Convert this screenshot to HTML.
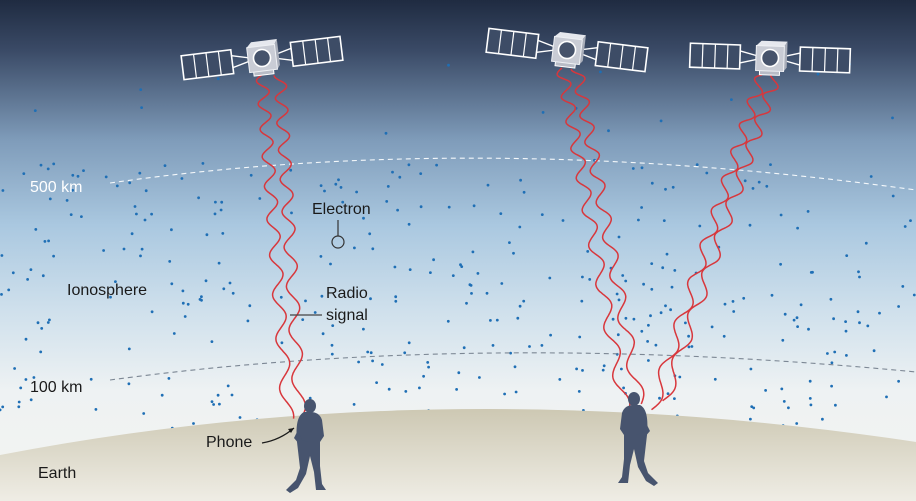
<!DOCTYPE html>
<html><head><meta charset="utf-8"><style>
html,body{margin:0;padding:0;width:916px;height:501px;overflow:hidden}
svg{display:block}
text{font-family:"Liberation Sans",sans-serif;font-size:16px;fill:#1a1a1a}
</style></head><body>
<svg id="s" width="916" height="501" viewBox="0 0 916 501" xmlns="http://www.w3.org/2000/svg">
<defs>
<linearGradient id="sky" x1="0" y1="0" x2="0" y2="1">
<stop offset="0" stop-color="#1f2b41"/>
<stop offset="0.1" stop-color="#3a4a66"/>
<stop offset="0.28" stop-color="#7f9cba"/>
<stop offset="0.45" stop-color="#aac8e0"/>
<stop offset="0.62" stop-color="#cfe0ec"/>
<stop offset="0.78" stop-color="#eef2f3"/>
<stop offset="1" stop-color="#f4f4f0"/>
</linearGradient>
<linearGradient id="earth" x1="0" y1="0" x2="0" y2="1">
<stop offset="0" stop-color="#cdc8b3"/>
<stop offset="1" stop-color="#efede5"/>
</linearGradient>
<g id="sat">
<rect x="-80" y="-12" width="50" height="24" fill="#3d4c66" stroke="#fff" stroke-width="1.6"/>
<path d="M-67.5-12v24M-55-12v24M-42.5-12v24" stroke="#fff" stroke-width="1.2"/>
<rect x="30" y="-12" width="50" height="24" fill="#3d4c66" stroke="#fff" stroke-width="1.6"/>
<path d="M42.5-12v24M55-12v24M67.5-12v24" stroke="#fff" stroke-width="1.2"/>
<path d="M-30-6L-14-2V2L-30 6M30-6L14-2V2L30 6" fill="none" stroke="#fff" stroke-width="1.4"/>
<rect x="-10" y="12" width="20" height="5" fill="#b8bcc6" stroke="#fff" stroke-width="1"/>
<path d="M-14-12L-9-17H17L14-12Z" fill="#e6e8ee"/>
<path d="M14-12L17-17V9L14 13Z" fill="#a9aeba"/>
<rect x="-14" y="-12" width="28" height="25" fill="#c9ccd5" stroke="#eef0f4" stroke-width="1"/>
<circle cx="0" cy="0" r="8.5" fill="#46536b" stroke="#fff" stroke-width="1.6"/>
</g>
<g id="person" fill="#47546e">
<ellipse cx="0" cy="-64" rx="6" ry="7"/>
<path d="M-6-58C-14-54-14-40-13-28L-10-2-14 10-20 16-24 20-20 23-12 18-4 4 0-14 4 2 6 20 16 20 12 14 10-4 10-28 14-34 12-50C10-56 6-58 0-58Z"/>
<path d="M-12-40L-8-30 -2-28 -2-25 -10-25 -16-32Z"/>
</g>
</defs>
<rect width="916" height="501" fill="url(#sky)"/>
<g id="dots" fill="#1f6fb5"></g>
<path d="M110 183 Q480 130 916 190" fill="none" stroke="#f4f8fb" stroke-width="1.1" stroke-dasharray="5 4"/>
<path d="M110 380 Q480 330 916 372" fill="none" stroke="#7c8794" stroke-width="1.1" stroke-dasharray="5 4"/>
<path d="M0 455 Q440 370 916 442 V501 H0Z" fill="url(#earth)"/>
<g id="waves" fill="none" stroke="#d8373c" stroke-width="1.5"></g>
<use href="#sat" transform="translate(262 58) rotate(-7)"/>
<use href="#sat" transform="translate(567 50) rotate(7)"/>
<use href="#sat" transform="translate(770 58) rotate(2)"/>
<use href="#person" transform="translate(310 470)"/>
<use href="#person" transform="translate(634 463) scale(-1 1)"/>
<text x="30" y="192" style="fill:#fff">500 km</text>
<text x="67" y="295">Ionosphere</text>
<text x="30" y="392">100 km</text>
<text x="38" y="478">Earth</text>
<text x="206" y="447">Phone</text>
<path d="M262 443 Q280 440 294 428" fill="none" stroke="#1a1a1a" stroke-width="1.2"/>
<path d="M294 428 l-6 1 3 4z" fill="#1a1a1a"/>
<text x="312" y="214">Electron</text>
<line x1="338" y1="220" x2="338" y2="236" stroke="#333" stroke-width="1.2"/>
<circle cx="338" cy="242" r="6" fill="none" stroke="#333" stroke-width="1.2"/>
<text x="326" y="298">Radio</text>
<text x="326" y="320">signal</text>
<line x1="290" y1="315" x2="322" y2="315" stroke="#444" stroke-width="1.2"/>
</svg>
<script>
(function(){
var ns="http://www.w3.org/2000/svg";
var seed=7;function r(){seed=(seed*16807)%2147483647;return seed/2147483647;}
var g=document.getElementById("dots");
for(var i=0;i<480;i++){
 var x=r()*916,y=60+r()*380;
 if(y>430)continue;
 if(y<160&&r()<0.85)continue;
 var c=document.createElementNS(ns,"circle");
 c.setAttribute("cx",x.toFixed(1));c.setAttribute("cy",y.toFixed(1));c.setAttribute("r","1.4");g.appendChild(c);
}
var w=document.getElementById("waves");
function wave(x0,y0,x1,y1,amp,per,ph){
 var dx=x1-x0,dy=y1-y0,L=Math.sqrt(dx*dx+dy*dy),nx=-dy/L,ny=dx/L,d="";
 for(var t=0;t<=L;t+=1.5){
  var f=t/L,p=per*(1+0.6*f);
  var a=amp*Math.sin(t/p*2*Math.PI+ph);
  var x=x0+dx*f+nx*a,y=y0+dy*f+ny*a;
  d+=(t?"L":"M")+x.toFixed(1)+" "+y.toFixed(1);
 }
 var p=document.createElementNS(ns,"path");p.setAttribute("d",d);w.appendChild(p);
}
wave(262,75,288,420,6,22,0);
wave(280,75,300,415,6,22,1.5);
wave(562,68,625,410,6,22,0);
wave(577,68,640,405,6,22,1.5);
wave(762,75,652,410,6,22,0);
wave(776,75,664,402,6,22,1.5);
})();
</script>
</body></html>
